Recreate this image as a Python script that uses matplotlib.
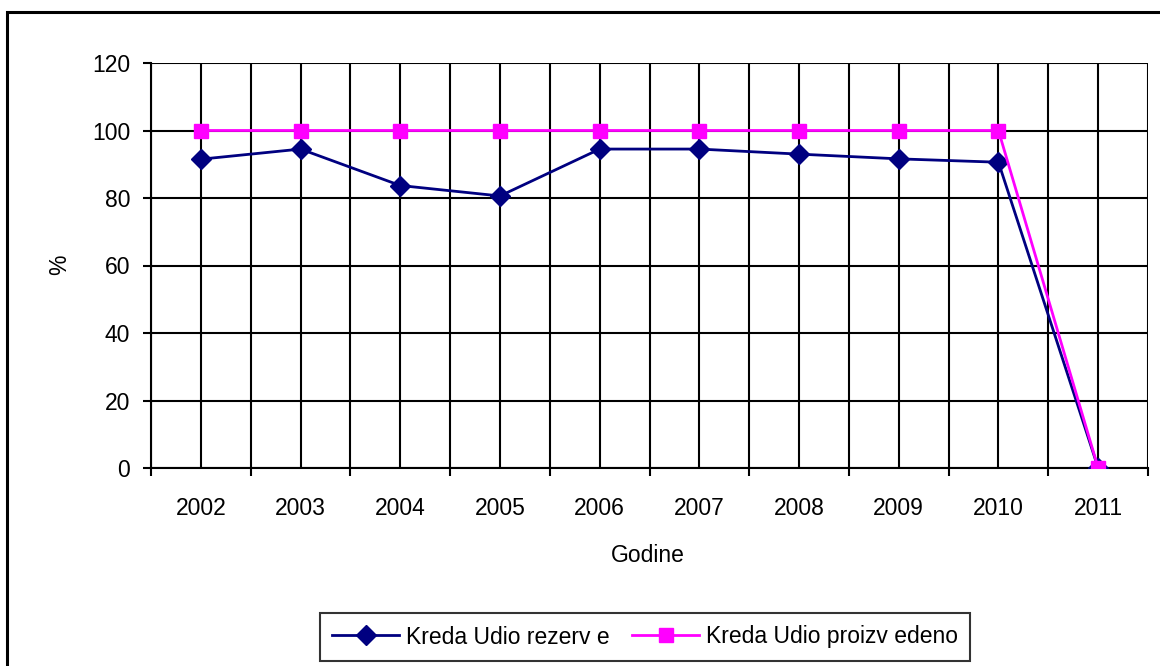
import matplotlib.pyplot as plt
import matplotlib.patches as patches
import numpy as np

# Share of chalk (kreda) reserves and production per year
years = ['2002', '2003', '2004', '2005', '2006', '2007', '2008', '2009', '2010', '2011']
udio_rezerve = [91.5, 94.5, 83.7, 80.6, 94.5, 94.5, 93.0, 91.6, 90.6, 0.0]
udio_proizvedeno = [100, 100, 100, 100, 100, 100, 100, 100, 100, 0]
y_ticks = [0, 20, 40, 60, 80, 100, 120]

plt.rcParams['font.family'] = ['Liberation Sans', 'DejaVu Sans']

W, H = 1160, 666
fs = 16.5
fig = plt.figure(figsize=(W / 100, H / 100), dpi=100)
ax = fig.add_axes([151 / W, 1 - 468 / H, (1148 - 151) / W, (468 - 63) / H])

x = np.arange(len(years))
grid_lw = 1.5

# Grid: category boundaries and category centres
for xb in np.arange(-0.5, len(years), 1.0):
    ax.axvline(xb, color='black', lw=grid_lw, zorder=1)
for xc in x:
    ax.axvline(xc, color='black', lw=grid_lw, zorder=1)
for yv in y_ticks:
    ax.axhline(yv, color='black', lw=grid_lw, zorder=1)

ax.plot(x, udio_rezerve, color='#000080', lw=2, marker='D', ms=10.5,
        label='Kreda Udio rezerv e', zorder=3)
ax.plot(x, udio_proizvedeno, color='#FF00FF', lw=2, marker='s', ms=10.5,
        label='Kreda Udio proizv edeno', zorder=4)

ax.set_xlim(-0.5, len(years) - 0.5)
ax.set_ylim(0, 120)
ax.set_yticks(y_ticks)

# major ticks on boundaries (marks only), minor ticks at centres (labels only)
ax.set_xticks(np.arange(-0.5, len(years), 1.0))
ax.set_xticklabels([])
ax.set_xticks(x, minor=True)
ax.set_xticklabels(years, minor=True)
ax.tick_params(axis='x', which='major', direction='out', length=6, width=1.5)
ax.tick_params(axis='x', which='minor', length=0, pad=21, labelsize=fs)
ax.tick_params(axis='y', direction='out', length=6, width=1.5, pad=9, labelsize=fs)

for pos in ['left', 'bottom']:
    ax.spines[pos].set_linewidth(1.5)
for pos in ['top', 'right']:
    ax.spines[pos].set_visible(False)

fig.text(648 / W, 1 - 555 / H, 'Godine', ha='center', va='center', fontsize=fs)
fig.text(60 / W, 1 - 265 / H, '%', ha='center', va='center', rotation=90, fontsize=fs)

leg = fig.legend(loc='center', bbox_to_anchor=(645 / W, 1 - 637 / H), ncol=2,
                 fontsize=fs, frameon=True, fancybox=False, handlelength=2.9,
                 handletextpad=0.3, columnspacing=1.0, borderpad=0.55)
leg.get_frame().set_edgecolor('black')
leg.get_frame().set_linewidth(1.5)

# Outer chart frame (runs off the right and bottom edges)
frame = patches.Rectangle((7 / W, -0.2), 1.2, 1.2 - 12 / H,
                          transform=fig.transFigure, fill=False,
                          edgecolor='black', lw=2.2)
fig.add_artist(frame)

fig.savefig('out.png', dpi=100)
